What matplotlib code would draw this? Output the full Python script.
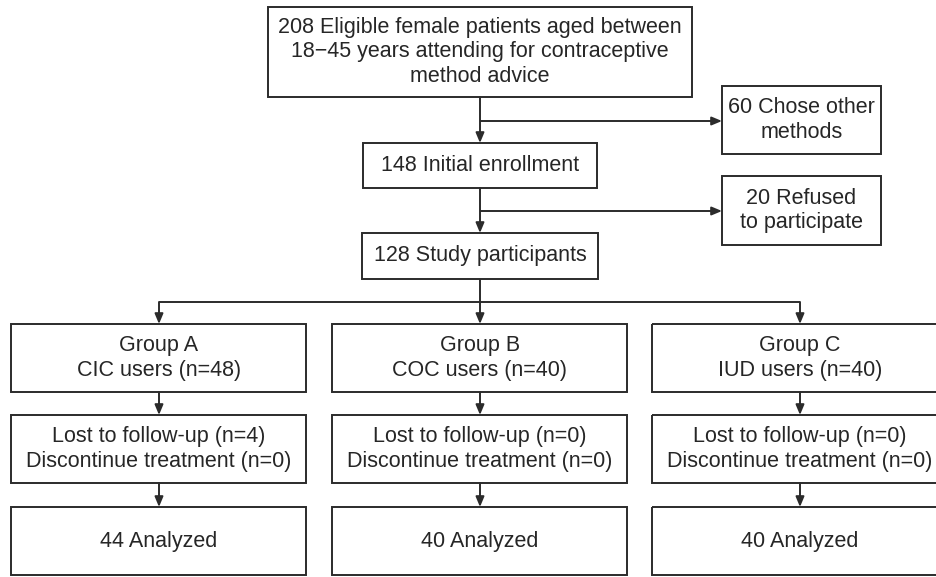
import matplotlib.pyplot as plt
from matplotlib.patches import Rectangle

# flow texts
top_text = "208 Eligible female patients aged between\n18\u221245 years attending for contraceptive\nmethod advice"
enroll_text = "148 Initial enrollment"
study_text = "128 Study participants"
excluded_texts = ["60 Chose other\nmethods", "20 Refused\nto participate"]
group_names = ["Group A", "Group B", "Group C"]
group_users = ["CIC users", "COC users", "IUD users"]
group_n = [48, 40, 40]
lost_n = [4, 0, 0]
discont_n = [0, 0, 0]
analyzed_n = [44, 40, 40]

LC = '#2b2b2b'
FONT = 'Liberation Sans'
FS = 15.5

fig = plt.figure(figsize=(9.37, 5.77), dpi=100)
ax = fig.add_axes([0, 0, 1, 1])
ax.set_xlim(0, 937)
ax.set_ylim(577, 0)
ax.axis('off')


def box(x0, y0, x1, y1, text, fs=FS):
    ax.add_patch(Rectangle((x0, y0), x1 - x0, y1 - y0, fill=False,
                           edgecolor=LC, linewidth=1.4, clip_on=False))
    ax.text((x0 + x1) / 2, (y0 + y1) / 2, text, ha='center', va='center',
            fontsize=fs, family=FONT, color='#262626', linespacing=1.2)


def arrow(x0, y0, x1, y1):
    ax.annotate('', xy=(x1, y1), xytext=(x0, y0),
                arrowprops=dict(arrowstyle='-|>,head_length=0.6,head_width=0.25',
                                color=LC, lw=1.4, shrinkA=0, shrinkB=0))


def line(xs, ys):
    ax.plot(xs, ys, color=LC, lw=1.4, solid_capstyle='butt')


cx = 480
box(268, 7, 692, 97, top_text)
arrow(cx, 97, cx, 143)
line([cx, 712], [121, 121])
arrow(711, 121, 722, 121)
box(722, 86, 881, 154, excluded_texts[0])

box(363, 143, 597, 188, enroll_text)
arrow(cx, 188, cx, 233)
line([cx, 712], [211, 211])
arrow(711, 211, 722, 211)
box(722, 176, 881, 245, excluded_texts[1])

box(362, 233, 598, 279, study_text)
col_x = [159, 480, 800]
line([cx, cx], [279, 302])
line([col_x[0], col_x[-1]], [302, 302])
half_w = 147.5
for i, c in enumerate(col_x):
    arrow(c, 302, c, 324)
    box(c - half_w, 324, c + half_w, 392,
        f"{group_names[i]}\n{group_users[i]} (n={group_n[i]})")
    arrow(c, 392, c, 415)
    box(c - half_w, 415, c + half_w, 483,
        f"Lost to follow-up (n={lost_n[i]})\nDiscontinue treatment (n={discont_n[i]})")
    arrow(c, 483, c, 507)
    box(c - half_w, 507, c + half_w, 575, f"{analyzed_n[i]} Analyzed")

fig.savefig('out.png', dpi=100)
